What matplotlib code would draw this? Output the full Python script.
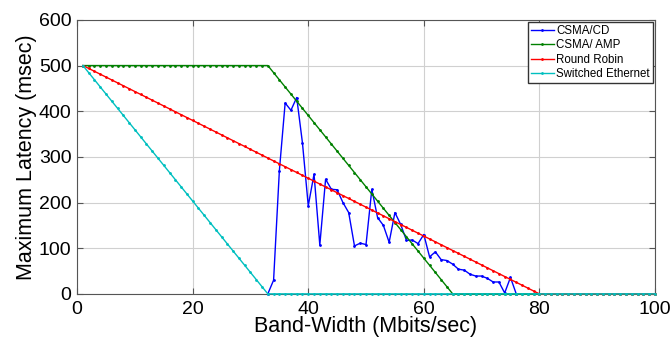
import numpy as np
import matplotlib.pyplot as plt

plt.rcParams['font.family'] = ['Liberation Sans', 'DejaVu Sans']

# band-width steps (Mbits/sec)
bw = np.arange(1, 101)

# CSMA/CD measured latency, from 33 to 76 Mbits/sec
cd_x = np.arange(33, 77)
cd_vals = [0, 30, 270, 418, 402, 430, 330, 193, 262, 107,
           251, 229, 228, 200, 178, 105, 111, 108, 229, 167,
           150, 113, 178, 152, 117, 118, 110, 130, 81, 92,
           75, 73, 65, 54, 52, 43, 39, 39, 34, 26,
           26, 2, 36, 0]

# the three analytic curves
csma_amp = np.interp(bw, [1, 33, 65, 100], [500, 500, 0, 0])
round_robin = np.interp(bw, [1, 80, 100], [500, 0, 0])
switched = np.interp(bw, [1, 33, 100], [500, 0, 0])

fig = plt.figure(figsize=(6.71, 3.37), dpi=100)
ax = fig.add_axes([0.115, 0.128, 0.861, 0.813])

style = dict(lw=1, ms=2, zorder=3, clip_on=False)
ax.plot(cd_x, cd_vals, '.-', color='#0000ff', label='CSMA/CD', **style)
ax.plot(bw, csma_amp, '.-', color='#008000', label='CSMA/ AMP', **style)
ax.plot(bw, round_robin, '.-', color='#ff0000', label='Round Robin', **style)
ax.plot(bw, switched, '.-', color='#00bfbf', label='Switched Ethernet', **style)

ax.set_xlim(0, 100)
ax.set_ylim(0, 600)
ax.set_xticks([0, 20, 40, 60, 80, 100])
ax.set_yticks([0, 100, 200, 300, 400, 500, 600])
ax.grid(True, color='#d0d0d0', lw=0.8)
ax.tick_params(direction='in', top=True, right=True, labelsize=14, length=4,
               color='#555555')
ax.tick_params(axis='x', pad=5)
ax.tick_params(axis='y', pad=4)
for s in ax.spines.values():
    s.set_color('#555555')

ax.set_xlabel('Band-Width (Mbits/sec)', fontsize=15.5, labelpad=-1)
ax.set_ylabel('Maximum Latency (msec)', fontsize=15.5, labelpad=1)

leg = ax.legend(loc='upper right', fontsize=8.3, handlelength=2.0,
                borderaxespad=0.2, labelspacing=0.2, fancybox=False,
                framealpha=1, handletextpad=0.2, borderpad=0.25)
leg.get_frame().set_edgecolor('#333333')
leg.set_zorder(5)

fig.savefig('out.png', dpi=100)
